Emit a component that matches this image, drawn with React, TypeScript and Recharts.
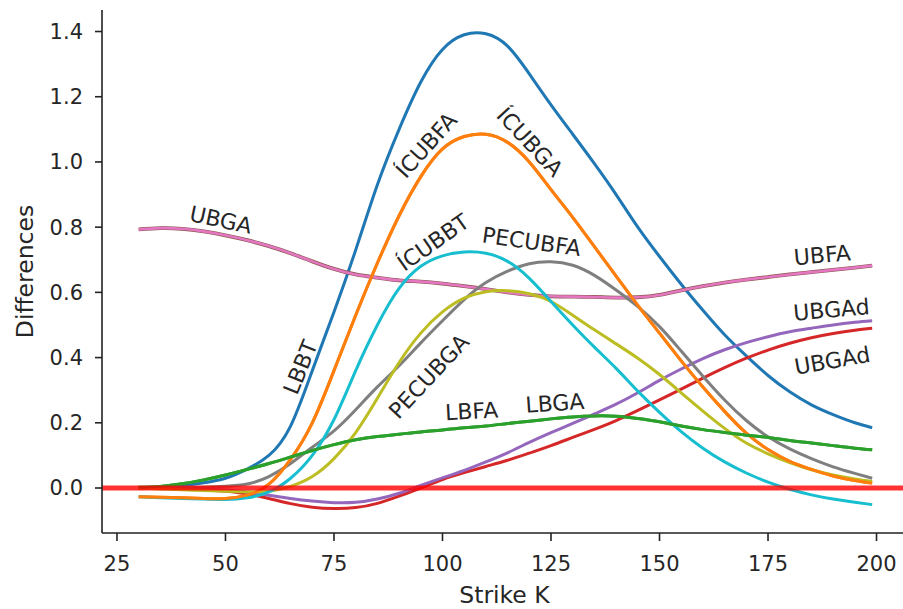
import { LineChart, Line, XAxis, YAxis, ReferenceLine, ReferenceDot } from "recharts";

// strike grid
const strikes = [30, 35, 40, 45, 50, 55, 60, 65, 70, 75, 80, 85, 90, 95, 100, 105, 110, 115, 120, 125, 130, 135, 140, 145, 150, 155, 160, 165, 170, 175, 180, 185, 190, 195, 199];

const lbbt = [0.0, 0.002, 0.007, 0.016, 0.03, 0.058, 0.1, 0.19, 0.36, 0.54, 0.73, 0.93, 1.1, 1.245, 1.345, 1.39, 1.393, 1.355, 1.27, 1.175, 1.085, 0.995, 0.9, 0.8, 0.71, 0.625, 0.545, 0.47, 0.405, 0.345, 0.295, 0.255, 0.225, 0.2, 0.185];
const icubfa = [-0.027, -0.028, -0.03, -0.032, -0.032, -0.022, 0.012, 0.088, 0.2, 0.36, 0.53, 0.69, 0.835, 0.955, 1.04, 1.078, 1.085, 1.06, 1.0, 0.915, 0.83, 0.74, 0.65, 0.56, 0.475, 0.39, 0.31, 0.235, 0.168, 0.118, 0.082, 0.057, 0.037, 0.023, 0.015];
const icubga = [-0.027, -0.028, -0.03, -0.032, -0.032, -0.022, 0.012, 0.088, 0.2, 0.36, 0.53, 0.69, 0.835, 0.955, 1.04, 1.078, 1.085, 1.06, 1.0, 0.915, 0.83, 0.74, 0.65, 0.56, 0.475, 0.39, 0.31, 0.235, 0.168, 0.118, 0.082, 0.057, 0.037, 0.023, 0.015];
const lbfa = [0.002, 0.005, 0.013, 0.025, 0.04, 0.057, 0.075, 0.095, 0.115, 0.133, 0.148, 0.158, 0.165, 0.172, 0.178, 0.185, 0.19, 0.198, 0.205, 0.212, 0.218, 0.221, 0.22, 0.213, 0.203, 0.19, 0.179, 0.17, 0.162, 0.155, 0.146, 0.138, 0.13, 0.122, 0.117];
const lbga = [0.002, 0.005, 0.013, 0.025, 0.04, 0.057, 0.075, 0.095, 0.115, 0.133, 0.148, 0.158, 0.165, 0.172, 0.178, 0.185, 0.19, 0.198, 0.205, 0.212, 0.218, 0.221, 0.22, 0.213, 0.203, 0.19, 0.179, 0.17, 0.162, 0.155, 0.146, 0.138, 0.13, 0.122, 0.117];
const ubgadRed = [0.0, 0.0, -0.002, -0.005, -0.01, -0.018, -0.032, -0.048, -0.059, -0.063, -0.06, -0.047, -0.025, 0.0, 0.026, 0.047, 0.066, 0.085, 0.107, 0.13, 0.155, 0.18, 0.207, 0.238, 0.27, 0.303, 0.337, 0.369, 0.398, 0.423, 0.444, 0.461, 0.474, 0.484, 0.49];
const ubgadPurple = [0.0, 0.0, -0.001, -0.003, -0.006, -0.012, -0.022, -0.032, -0.04, -0.045, -0.044, -0.034, -0.016, 0.008, 0.031, 0.054, 0.08, 0.108, 0.14, 0.17, 0.198, 0.227, 0.257, 0.292, 0.33, 0.365, 0.397, 0.424, 0.446, 0.464, 0.479, 0.49, 0.5, 0.508, 0.513];
const ubga = [0.793, 0.797, 0.795, 0.787, 0.775, 0.76, 0.742, 0.72, 0.695, 0.672, 0.655, 0.645, 0.637, 0.633, 0.627, 0.619, 0.61, 0.6, 0.592, 0.588, 0.587, 0.586, 0.584, 0.585, 0.592, 0.606, 0.619, 0.63, 0.639, 0.647, 0.655, 0.662, 0.669, 0.676, 0.682];
const ubfa = [0.793, 0.797, 0.795, 0.787, 0.775, 0.76, 0.742, 0.72, 0.695, 0.672, 0.655, 0.645, 0.637, 0.633, 0.627, 0.619, 0.61, 0.6, 0.592, 0.588, 0.587, 0.586, 0.584, 0.585, 0.592, 0.606, 0.619, 0.63, 0.639, 0.647, 0.655, 0.662, 0.669, 0.676, 0.682];
const pecubfa = [0.0, 0.0, 0.0, 0.002, 0.005, 0.012, 0.035, 0.075, 0.125, 0.175, 0.24, 0.31, 0.375, 0.445, 0.513, 0.578, 0.63, 0.665, 0.688, 0.694, 0.683, 0.652, 0.607, 0.556, 0.495, 0.42, 0.343, 0.27, 0.207, 0.157, 0.12, 0.09, 0.065, 0.045, 0.03];
const pecubga = [0.0, -0.003, -0.005, -0.008, -0.01, -0.012, -0.01, 0.005, 0.035, 0.09, 0.17, 0.275, 0.385, 0.475, 0.54, 0.582, 0.602, 0.605, 0.596, 0.572, 0.53, 0.485, 0.442, 0.398, 0.348, 0.292, 0.236, 0.183, 0.138, 0.105, 0.078, 0.056, 0.04, 0.028, 0.02];
const icubbt = [-0.027, -0.03, -0.032, -0.034, -0.035, -0.03, -0.012, 0.03, 0.1, 0.21, 0.36, 0.5, 0.612, 0.68, 0.712, 0.724, 0.72, 0.695, 0.643, 0.572, 0.5, 0.432, 0.367, 0.297, 0.232, 0.173, 0.122, 0.08, 0.046, 0.018, -0.004, -0.021, -0.034, -0.044, -0.051];

const xTicks = [25, 50, 75, 100, 125, 150, 175, 200];
const yTicks = [0, 0.2, 0.4, 0.6, 0.8, 1.0, 1.2, 1.4];

const data = strikes.map((k, i) => ({
  k,
  lbbt: lbbt[i],
  icubfa: icubfa[i],
  lbfa: lbfa[i],
  ubgadRed: ubgadRed[i],
  ubgadPurple: ubgadPurple[i],
  ubga: ubga[i],
  ubfa: ubfa[i],
  pecubfa: pecubfa[i],
  pecubga: pecubga[i],
  icubbt: icubbt[i],
  icubga: icubga[i],
  lbga: lbga[i],
}));

const series = [
  { key: "lbbt", color: "#1f77b4", w: 3 },
  { key: "icubfa", color: "#ff7f0e", w: 3 },
  { key: "lbfa", color: "#2ca02c", w: 3 },
  { key: "ubgadRed", color: "#d62728", w: 3 },
  { key: "ubgadPurple", color: "#9467bd", w: 3 },
  { key: "ubga", color: "#8c564b", w: 3.8 },
  { key: "ubfa", color: "#e377c2", w: 2.6 },
  { key: "pecubfa", color: "#7f7f7f", w: 3 },
  { key: "pecubga", color: "#bcbd22", w: 3 },
  { key: "icubbt", color: "#17becf", w: 3 },
  { key: "icubga", color: "#ff7f0e", w: 3 },
  { key: "lbga", color: "#2ca02c", w: 3 },
];

// inline labels (data coords + rotation)
const labels = [
  { text: "UBGA", x: 48.9, y: 0.822, angle: 12 },
  { text: "LBBT", x: 67.3, y: 0.37, angle: -68 },
  { text: "ÍCUBFA", x: 96.3, y: 1.051, angle: -48 },
  { text: "ÍCUBGA", x: 120.1, y: 1.061, angle: 47 },
  { text: "ÍCUBBT", x: 97.9, y: 0.753, angle: -35 },
  { text: "PECUBFA", x: 120.5, y: 0.755, angle: 8 },
  { text: "PECUBGA", x: 96.9, y: 0.342, angle: -47 },
  { text: "LBFA", x: 106.7, y: 0.235, angle: -3 },
  { text: "LBGA", x: 125.9, y: 0.26, angle: -4 },
  { text: "UBFA", x: 187.5, y: 0.714, angle: -5 },
  { text: "UBGAd", x: 189.6, y: 0.546, angle: -5 },
  { text: "UBGAd", x: 189.8, y: 0.39, angle: -10 },
];

const FONT = "'DejaVu Sans', sans-serif";
const INK = "#262626";

const YLabel = (props: any) => {
  const { x, y, height } = props.viewBox;
  const cx = x + 33;
  const cy = y + height / 2;
  return (
    <text x={cx} y={cy} transform={`rotate(-90 ${cx} ${cy})`} textAnchor="middle" fontSize={23.5} fill={INK} fontFamily={FONT}>
      Differences
    </text>
  );
};

export default function App() {
  return (
    <div style={{ position: "absolute", left: 0, top: 0, background: "#fff", fontFamily: FONT }}>
      <LineChart width={903} height={609} data={data} margin={{ top: 10, right: 0, bottom: 0, left: 0 }}>
        <XAxis
          dataKey="k"
          type="number"
          domain={[21.55, 206.1]}
          allowDataOverflow
          ticks={xTicks}
          height={76}
          tickSize={8}
          tickMargin={15}
          stroke="#222"
          strokeWidth={1.6}
          tick={{ fill: INK, fontSize: 21, fontFamily: FONT }}
          label={{ value: "Strike K", position: "insideBottom", offset: 6, dx: 2, fontSize: 23.5, fill: INK, fontFamily: FONT }}
        />
        <XAxis xAxisId="top" orientation="top" type="number" domain={[21.55, 206.1]} height={0} tick={false} tickLine={false} stroke="#222" strokeWidth={1.6} />
        <YAxis
          type="number"
          domain={[-0.138, 1.466]}
          allowDataOverflow
          ticks={yTicks}
          width={102}
          tickSize={7}
          tickMargin={12}
          stroke="#222"
          strokeWidth={1.6}
          tickFormatter={(v: number) => v.toFixed(1)}
          tick={{ fill: INK, fontSize: 21, fontFamily: FONT }}
          label={<YLabel />}
        />
        {series.map((s) => (
          <Line key={s.key} dataKey={s.key} type="natural" stroke={s.color} strokeWidth={s.w} dot={false} isAnimationActive={false} />
        ))}
        <ReferenceLine y={0} stroke="#ff0000" strokeOpacity={0.8} strokeWidth={5} />
        {labels.map((l, i) => (
          <ReferenceDot
            key={i}
            x={l.x}
            y={l.y}
            r={0}
            shape={(p: any) => (
              <text
                x={p.cx}
                y={p.cy}
                transform={`rotate(${l.angle} ${p.cx} ${p.cy})`}
                textAnchor="middle"
                dominantBaseline="central"
                fontSize={22}
                fill={INK}
                fontFamily={FONT}
              >
                {l.text}
              </text>
            )}
          />
        ))}
      </LineChart>
    </div>
  );
}
